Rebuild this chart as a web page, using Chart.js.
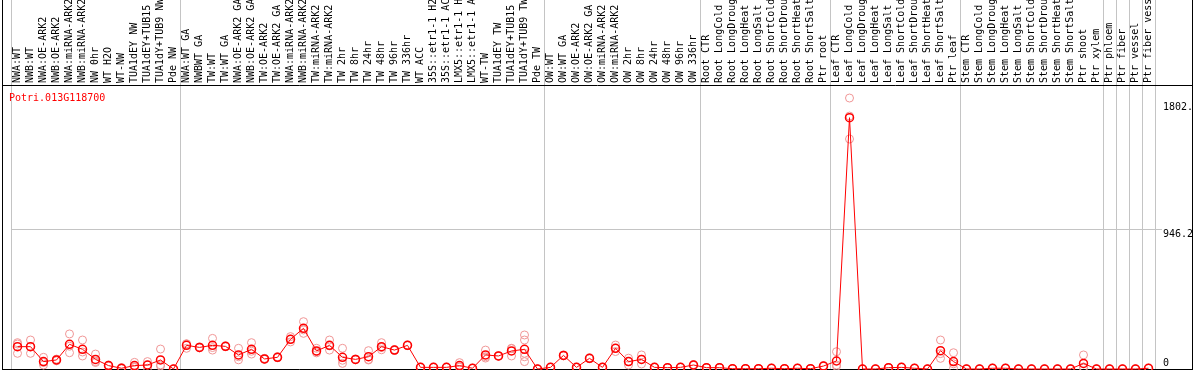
<!DOCTYPE html>
<html>
<head>
<meta charset="utf-8">
<script src="https://cdn.jsdelivr.net/npm/chart.js@4.4.1/dist/chart.umd.min.js"></script>
<style>
  html, body { margin: 0; padding: 0; background: #fff; }
  #wrap { position: relative; width: 1194px; height: 370px; overflow: hidden; }
  #gene { position: absolute; left: 9px; top: 92px; font: 10px/12px "DejaVu Sans Mono", monospace; color: #f00; }
</style>
</head>
<body>
<div id="wrap">
  <canvas id="chart" width="1194" height="370"></canvas>
  <div id="gene">Potri.013G118700</div>
</div>
<script>
// sample names, left to right
const categories = [
  "NWA:WT", "NWB:WT", "NWA:OE-ARK2", "NWB:OE-ARK2", "NWA:miRNA-ARK2", "NWB:miRNA-ARK2", "NW 0hr", "WT H2O", "WT-NW",
  "TUA1dEY NW", "TUA1dEY+TUB15 NW", "TUA1dY+TUB9 NW", "Pde NW",
  "NWA:WT GA", "NWBWT GA", "TW:WT", "TW:WT GA", "NWA:OE-ARK2 GA", "NWB:OE-ARK2 GA", "TW:OE-ARK2", "TW:OE-ARK2 GA",
  "NWA:miRNA-ARK2 GA", "NWB:miRNA-ARK2 GA", "TW:miRNA-ARK2", "TW:miRNA-ARK2 GA",
  "TW 2hr", "TW 8hr", "TW 24hr", "TW 48hr", "TW 96hr", "TW 336hr", "WT ACC",
  "35S::etr1-1 H2O", "35S::etr1-1 ACC", "LMX5::etr1-1 H2O", "LMX5::etr1-1 ACC",
  "WT-TW", "TUA1dEY TW", "TUA1dEY+TUB15 TW", "TUA1dY+TUB9 TW", "Pde TW",
  "OW:WT", "OW:WT GA", "OW:OE-ARK2", "OW:OE-ARK2 GA", "OW:miRNA-ARK2", "OW:miRNA-ARK2 GA",
  "OW 2hr", "OW 8hr", "OW 24hr", "OW 48hr", "OW 96hr", "OW 336hr",
  "Root CTR", "Root LongCold", "Root LongDrought", "Root LongHeat", "Root LongSalt",
  "Root ShortCold", "Root ShortDrought", "Root ShortHeat", "Root ShortSalt", "Ptr root",
  "Leaf CTR", "Leaf LongCold", "Leaf LongDrought", "Leaf LongHeat", "Leaf LongSalt",
  "Leaf ShortCold", "Leaf ShortDrought", "Leaf ShortHeat", "Leaf ShortSalt", "Ptr leaf",
  "Stem CTR", "Stem LongCold", "Stem LongDrought", "Stem LongHeat", "Stem LongSalt",
  "Stem ShortCold", "Stem ShortDrought", "Stem ShortHeat", "Stem ShortSalt", "Ptr shoot", "Ptr xylem",
  "Ptr phloem", "Ptr fiber", "Ptr vessel", "Ptr fiber vessel"
];

// mean expression per sample
const means = [
  151, 151, 50, 61, 167, 133, 65, 23, 5, 23, 27, 61, 0,
  160, 146, 160, 153, 95, 133, 68, 79, 201, 275, 122, 160, 79, 65, 83, 151, 128, 160,
  11, 11, 11, 23, 5, 95, 88, 122, 133, 0,
  11, 92, 11, 72, 11, 140, 50, 65, 11, 9, 11, 27,
  9, 9, 2, 2, 2, 5, 2, 5, 2, 20,
  54, 1699, 0, 0, 9, 11, 5, 0, 124, 50,
  0, 0, 5, 5, 0, 0, 0, 0, 0, 38, 0,
  0, 0, 0, 5
];

// individual replicates per sample
const replicates = [
  [178, 169, 106], [196, 151, 106], [79, 44, 27], [67, 61, 55], [237, 154, 110], [196, 115, 88],
  [101, 50, 44], [27, 23, 19], [9, 5, 1], [45, 14, 10], [50, 26, 5], [135, 28, 20], [0, 0, 0],
  [171, 169, 140], [150, 145, 143], [207, 145, 128], [156, 153, 150], [140, 83, 62], [178, 120, 101],
  [72, 67, 65], [83, 78, 76], [219, 201, 183], [320, 264, 241], [140, 117, 109], [196, 156, 128],
  [140, 59, 38], [68, 65, 62], [124, 64, 61], [178, 145, 130], [131, 128, 125], [162, 160, 158],
  [12, 11, 10], [12, 11, 10], [12, 11, 10], [43, 14, 12], [5, 5, 5], [128, 83, 74], [90, 88, 86],
  [140, 138, 88], [230, 196, 106, 83, 50], [0, 0, 0],
  [12, 11, 10], [95, 92, 89], [12, 11, 10], [75, 72, 69], [12, 11, 10], [162, 140, 118],
  [73, 50, 27], [95, 66, 34], [12, 11, 10], [10, 9, 8], [12, 11, 10], [30, 27, 24],
  [10, 9, 8], [10, 9, 8], [2, 2, 2], [2, 2, 2], [2, 2, 2], [6, 5, 4], [2, 2, 2], [6, 5, 4], [2, 2, 2], [22, 20, 18],
  [117, 27, 18], [1832, 1710, 1555], [0, 0, 0], [0, 0, 0], [10, 9, 8], [12, 11, 10], [6, 5, 4], [0, 0, 0],
  [196, 104, 72], [110, 35, 5],
  [0, 0, 0], [0, 0, 0], [6, 5, 4], [6, 5, 4], [0, 0, 0], [0, 0, 0], [0, 0, 0], [0, 0, 0], [0, 0, 0],
  [95, 14, 5], [0, 0, 0],
  [0, 0, 0], [0, 0, 0], [0, 0, 0], [6, 5, 4]
];

// first sample of each block (a grey separator is drawn on its left)
const groupStarts = [0, 13, 41, 53, 63, 73, 84, 85, 86, 87];

const yTicks = [0, 946.2, 1802.4];
const yTickLabels = ["0", "946.2", "1802."];
const yMax = 1920;

Chart.defaults.font.family = '"DejaVu Sans Mono", monospace';
Chart.defaults.font.size = 10;
Chart.defaults.color = "#000";

const GRID = "#c4c4c4";
const NONE = "rgba(0,0,0,0)";

// black frame round the plot
const framePlugin = {
  id: "frame",
  beforeDatasetsDraw(chart) {
    const { ctx, chartArea, width, height } = chart;
    const top = Math.round(chartArea.top) + 0.5;
    const bottom = Math.floor(chartArea.bottom) + 0.5;
    ctx.save();
    ctx.strokeStyle = "#000";
    ctx.lineWidth = 1;
    ctx.beginPath();
    ctx.moveTo(2.5, 0); ctx.lineTo(2.5, height);
    ctx.moveTo(width - 1.5, 0); ctx.lineTo(width - 1.5, height);
    ctx.moveTo(2, top); ctx.lineTo(width - 1, top);
    ctx.moveTo(2, bottom); ctx.lineTo(width - 1, bottom);
    ctx.stroke();
    ctx.restore();
  }
};

const datasets = [{
  label: "mean",
  data: means,
  borderColor: "#ff0000",
  borderWidth: 1,
  pointRadius: 4,
  pointBorderWidth: 1.5,
  pointBorderColor: "#ff0000",
  pointBackgroundColor: NONE,
  tension: 0,
  clip: false
}];

const maxReps = Math.max(...replicates.map(r => r.length));
for (let k = 0; k < maxReps; k++) {
  datasets.push({
    label: "rep" + (k + 1),
    data: replicates.map(r => (r.length > k ? r[k] : null)),
    showLine: false,
    pointRadius: 4,
    pointBorderWidth: 1,
    pointBorderColor: "rgb(240,150,150)",
    pointBackgroundColor: NONE,
    clip: false
  });
}

const noPad = s => { s.paddingTop = 0; s.paddingBottom = 0; s.paddingLeft = 0; s.paddingRight = 0; };

new Chart(document.getElementById("chart"), {
  type: "line",
  data: { labels: categories, datasets: datasets },
  options: {
    responsive: false,
    devicePixelRatio: 1,
    animation: false,
    events: [],
    layout: { autoPadding: false, padding: { left: 11, right: 2, top: 0, bottom: 1 } },
    plugins: { legend: { display: false }, tooltip: { enabled: false } },
    scales: {
      x: {
        type: "category",
        position: "top",
        offset: true,
        grid: {
          offset: true,
          drawTicks: true,
          tickLength: 85,
          lineWidth: 1,
          color: c => (c.index === undefined || groupStarts.includes(c.index)) ? GRID : NONE
        },
        border: { display: false },
        ticks: { autoSkip: false, minRotation: 90, maxRotation: 90, padding: -83, labelOffset: 12, color: "#000" },
        afterFit: s => { s.height = 85; noPad(s); }
      },
      y: {
        position: "right",
        min: 0,
        max: yMax,
        grid: {
          drawTicks: true,
          tickLength: 7,
          color: c => (c.tick && c.tick.value === 946.2) ? GRID : NONE
        },
        border: { display: false },
        afterBuildTicks: s => { s.ticks = yTicks.map(v => ({ value: v })); },
        ticks: {
          padding: 1,
          font: { size: 10, lineHeight: 1.1 },
          callback: (v, i) => (i === 0 ? [yTickLabels[i], ""] : ["", yTickLabels[i]])
        },
        afterFit: s => { s.width = 37; noPad(s); }
      }
    }
  },
  plugins: [framePlugin]
});
</script>
</body>
</html>
